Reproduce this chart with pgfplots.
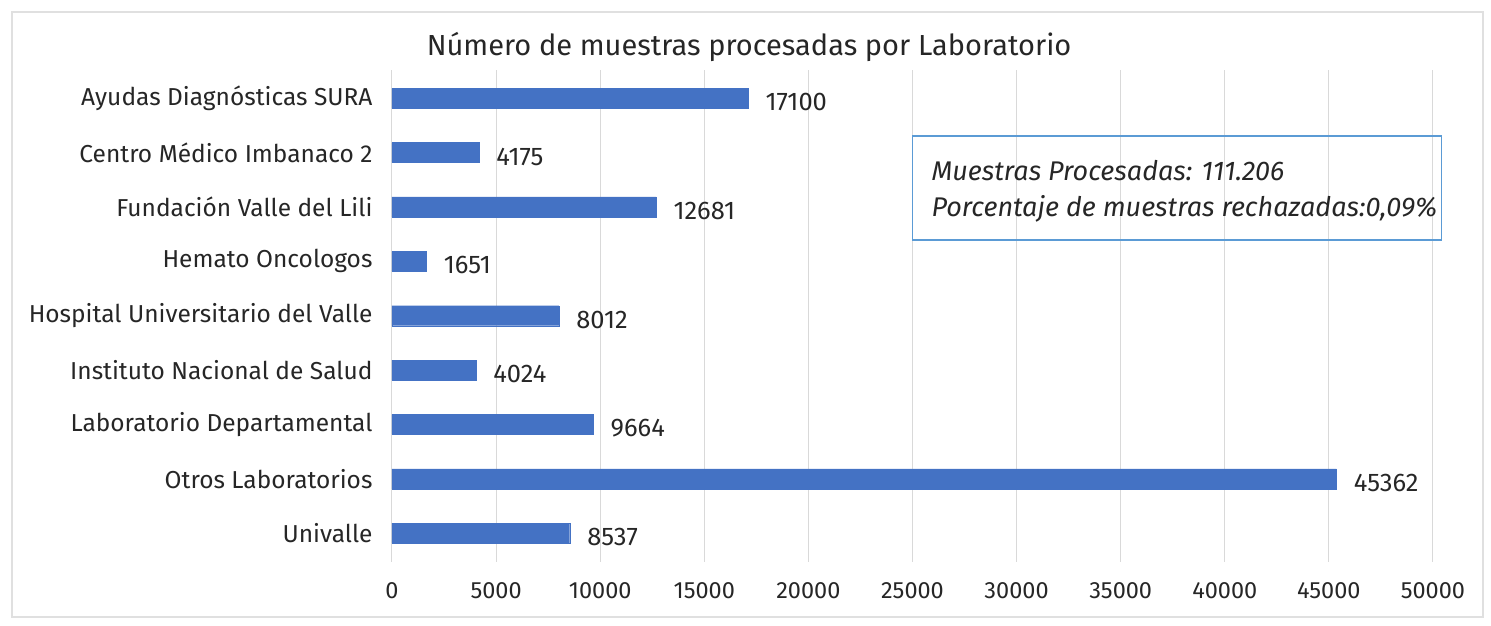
\documentclass[border=0pt]{standalone}
\usepackage{pgfplots}
\pgfplotsset{compat=1.18}
\usepackage{fontspec}
\setmainfont{Fira Sans}
\definecolor{barblue}{HTML}{4472C4}
\definecolor{boxblue}{HTML}{5B9BD5}
\definecolor{txt}{HTML}{262626}
\begin{document}
\begin{tikzpicture}[x=1pt,y=1pt]
\useasboundingbox (0,0) rectangle (1491,626);
\draw[draw=black!12, line width=1.2pt] (12,9) rectangle (1483,614);
\begin{axis}[
  at={(392pt,64pt)}, anchor=south west,
  scale only axis, width=1041pt, height=492pt,
  clip=false,
  xbar, bar width=20pt,
  xmin=0, xmax=50000,
  ymin=-0.53, ymax=8.52,
  xtick={0,5000,...,50000},
  ytick={0,...,8},
  yticklabels={Univalle,Otros Laboratorios,Laboratorio Departamental,Instituto Nacional de Salud,Hospital Universitario del Valle,Hemato Oncologos,Fundación Valle del Lili,Centro Médico Imbanaco 2,Ayudas Diagnósticas SURA},
  /pgf/number format/assume math mode=true,
  scaled x ticks=false,
  xticklabel style={/pgf/number format/1000 sep={}, font=\fontsize{23.5}{27}\selectfont, text=txt, yshift=-17pt},
  yticklabel style={font=\fontsize{24.5}{28}\selectfont, text=txt, xshift=-16pt},
  axis line style={draw=none},
  major tick length=0pt,
  xmajorgrids, grid style={draw=black!15, line width=1pt},
  title={Número de muestras procesadas por Laboratorio},
  title style={at={(rel axis cs:0.343,1)}, anchor=base, yshift=8pt, font=\fontsize{29}{33}\selectfont, text=txt},
  nodes near coords={\fontsize{25.5}{29}\selectfont\pgfmathprintnumber[1000 sep={}]{\pgfplotspointmeta}},
  every node near coord/.append style={anchor=west, text=txt, xshift=14pt, yshift=-4pt},
]
\addplot[fill=barblue, draw=barblue] coordinates {
  (8537,0) (45362,1) (9664,2) (4024,3) (8012,4) (1651,5) (12681,6) (4175,7) (17100,8)
};
\node[draw=boxblue, line width=1.5pt, anchor=north west, minimum width=529pt, minimum height=104pt, inner sep=0pt] (b) at (axis cs:24976,7.32) {};
\node[anchor=west, align=left, font=\fontsize{27}{36}\selectfont\itshape, text=txt] at ([xshift=16pt, yshift=-3pt]b.west) {Muestras Procesadas: 111.206\\Porcentaje de muestras rechazadas:0,09\%};
\end{axis}
\end{tikzpicture}
\end{document}
